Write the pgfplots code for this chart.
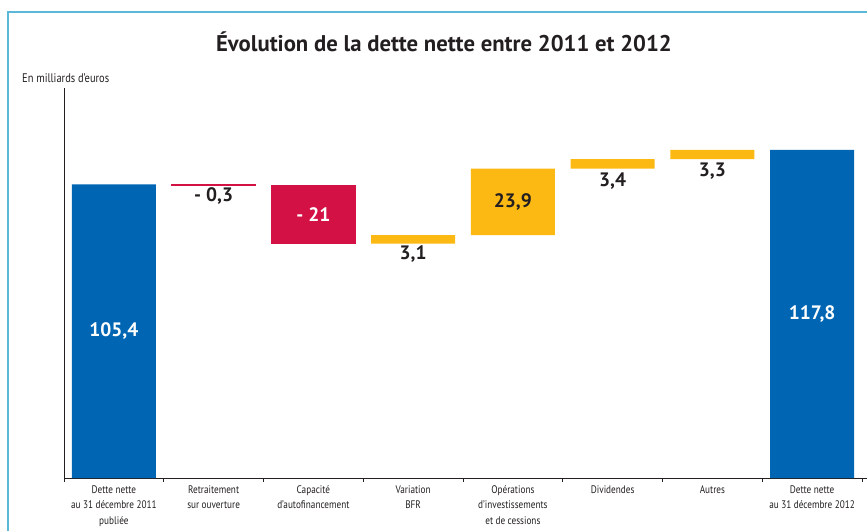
\documentclass[border=0pt]{standalone}
\usepackage{pgfplots}
\pgfplotsset{compat=1.18}
\usepackage{fontspec}
\setmainfont{PT Sans}
\newfontfamily\condfont{PT Sans}[FakeStretch=0.84]
\definecolor{blu}{HTML}{0066B3}
\definecolor{rd}{HTML}{D31145}
\definecolor{yl}{HTML}{FDB913}
\definecolor{txt}{HTML}{231F20}
\definecolor{framec}{HTML}{5BB8D8}
\tikzset{lab/.style={font=\bfseries\fontsize{19.5}{19.5}\selectfont}}
\pgfplotsset{geom/.style={scale only axis, width=798bp, height=390bp,
 xmin=-0.5, xmax=7.5, ymin=0, ymax=140, ybar stacked, bar width=0.84, clip=false}}
\begin{document}
\begin{tikzpicture}
\useasboundingbox (-64bp,-53bp) rectangle (803bp,478bp);
\draw[framec, line width=2bp] (-56bp,-120bp) -- (-56bp,466bp) -- (900bp,466bp);
\begin{axis}[
 geom,
 axis x line=bottom, axis y line=left,
 axis line style={-, txt, line width=0.8bp},
 ytick=\empty,
 xtick={0,...,7},
 xticklabels={{Dette nette\\au 31 décembre 2011\\publiée},{Retraitement\\sur ouverture},{Capacité\\d’autofinancement},{Variation\\BFR},{Opérations\\d’investissements\\et de cessions},{Dividendes},{Autres},{Dette nette\\au 31 décembre 2012}},
 major tick length=0pt,
 minor xtick={-0.5,0.5,...,7.5},
 minor tick length=4bp,
 tick style={txt, line width=0.8bp},
 tick align=outside,
 xticklabel style={align=center, font=\condfont\fontsize{11}{15.5}\selectfont, text=txt, anchor=north, yshift=-4bp},
]
\addplot[draw=none, fill=none] coordinates {(0,0) (1,105.1) (2,84.1) (3,84.1) (4,87.2) (5,111.1) (6,114.5) (7,0)};
\addplot[draw=none, fill=blu] coordinates {(0,105.4) (1,0) (2,0) (3,0) (4,0) (5,0) (6,0) (7,117.8)};
\addplot[draw=none, fill=yl] coordinates {(0,0) (1,0) (2,0) (3,3.1) (4,23.9) (5,3.4) (6,3.3) (7,0)};
\coordinate (l0) at (axis cs:0,52.7);
\coordinate (l1) at (axis cs:1,101.2);
\coordinate (l2) at (axis cs:2,94.6);
\coordinate (l3) at (axis cs:3,80.4);
\coordinate (l4) at (axis cs:4,99.1);
\coordinate (l5) at (axis cs:5,106.6);
\coordinate (l6) at (axis cs:6,110.2);
\coordinate (l7) at (axis cs:7,58.9);
\end{axis}
\begin{axis}[geom, hide axis]
\addplot[draw=none, fill=none] coordinates {(1,105.1) (2,84.1)};
\addplot[draw=rd, line width=1.1bp, fill=rd] coordinates {(1,0.3) (2,21)};
\end{axis}
\draw[txt, line width=0.8bp] (797bp,0) -- (805bp,0);
\node[lab, text=white] at (l0) {105,4};
\node[lab, text=txt] at (l1) {- 0,3};
\node[lab, text=white] at (l2) {- 21};
\node[lab, text=txt] at (l3) {3,1};
\node[lab, text=txt] at (l4) {23,9};
\node[lab, text=txt] at (l5) {3,4};
\node[lab, text=txt] at (l6) {3,3};
\node[lab, text=white] at (l7) {117,8};
\node[font=\bfseries\fontsize{22.8}{22.8}\selectfont, text=txt] at (380bp,436bp) {Évolution de la dette nette entre 2011 et 2012};
\node[anchor=west, font=\condfont\fontsize{12.5}{14}\selectfont, text=txt, inner sep=0pt] at (-42bp,400bp) {En milliards d’euros};
\end{tikzpicture}
\end{document}
